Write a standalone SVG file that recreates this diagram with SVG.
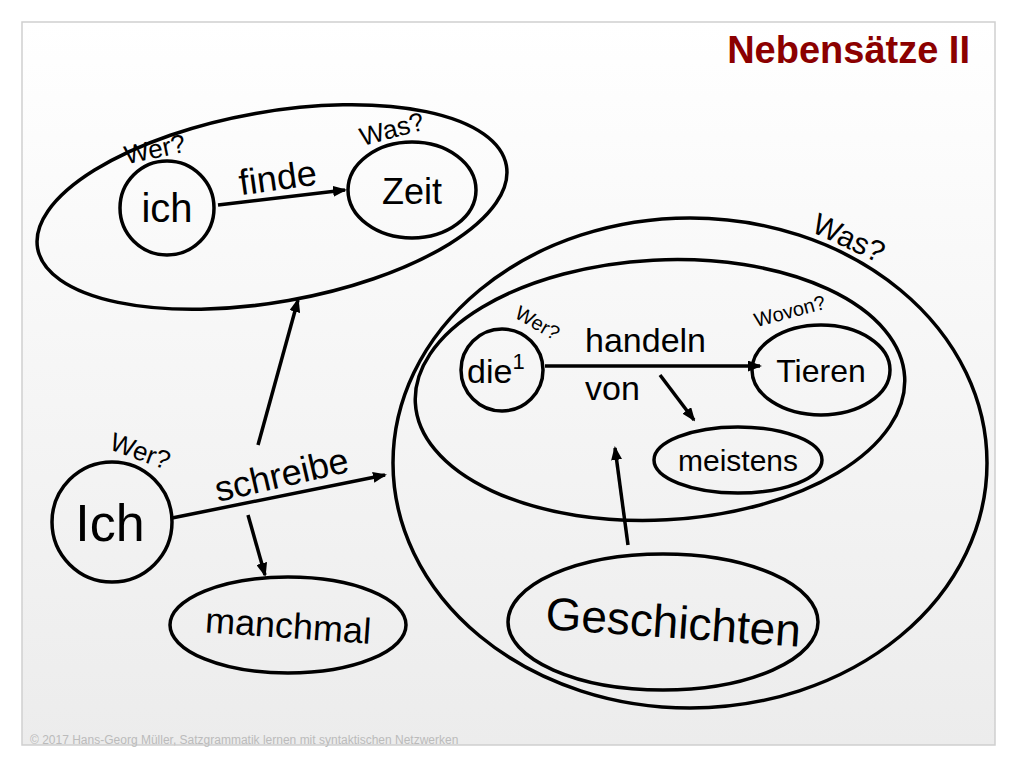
<svg xmlns="http://www.w3.org/2000/svg" width="1024" height="768" viewBox="0 0 1024 768">
<defs>
<linearGradient id="bg" x1="0" y1="0" x2="0" y2="1"><stop offset="0" stop-color="#ffffff"/><stop offset="1" stop-color="#ececec"/></linearGradient>
<marker id="ah" markerWidth="14" markerHeight="11" refX="12" refY="5.5" orient="auto" markerUnits="userSpaceOnUse"><path d="M0,0 L14,5.5 L0,11 Z" fill="#000"/></marker>
</defs>
<style>
.n{fill:none;stroke:#000;stroke-width:3.5}
.t{font-family:"Liberation Sans",Arial,sans-serif;fill:#000}
.c line{stroke:#000;stroke-width:3.5;marker-end:url(#ah)}
</style>
<rect width="1024" height="768" fill="#fff"/>
<rect x="22" y="22" width="973" height="723" fill="url(#bg)" stroke="#cfcfcf" stroke-width="1.5"/>
<text x="970" y="63" text-anchor="end" class="t" font-size="38" font-weight="bold" style="fill:#8b0000">Nebensätze II</text>
<g id="clause1"><ellipse cx="272" cy="207" rx="238" ry="95" transform="rotate(-10 272 207)" class="n"/></g>
<g id="ich"><circle cx="167" cy="208" r="47" class="n"/><text x="167" y="222" text-anchor="middle" class="t" font-size="40">ich</text></g>
<g id="zeit"><ellipse cx="412" cy="190" rx="64" ry="48" class="n"/><text x="412" y="204" text-anchor="middle" class="t" font-size="36">Zeit</text></g>
<g id="clause2"><ellipse cx="690" cy="463" rx="297" ry="245" class="n"/></g>
<g id="clause3"><ellipse cx="660" cy="390" rx="245" ry="130" transform="rotate(-3 660 390)" class="n"/></g>
<g id="die"><circle cx="502" cy="370" r="41" class="n"/><text x="467" y="383" class="t" font-size="34">die<tspan font-size="22" dy="-14">1</tspan></text></g>
<g id="tieren"><ellipse cx="821" cy="370" rx="69" ry="45" class="n"/><text x="821" y="382" text-anchor="middle" class="t" font-size="32">Tieren</text></g>
<g id="meistens"><ellipse cx="738" cy="460" rx="84" ry="33" class="n"/><text x="738" y="471" text-anchor="middle" class="t" font-size="30">meistens</text></g>
<g id="geschichten"><ellipse cx="663" cy="622" rx="155" ry="68" class="n"/><text x="673" y="638" text-anchor="middle" class="t" font-size="46" transform="rotate(4 673 628)">Geschichten</text></g>
<g id="Ich"><circle cx="112" cy="522" r="60" class="n"/><text x="110" y="541" text-anchor="middle" class="t" font-size="52">Ich</text></g>
<g id="manchmal"><ellipse cx="288" cy="625" rx="118" ry="48" class="n"/><text x="288" y="638" text-anchor="middle" class="t" font-size="36" transform="rotate(4 288 628)">manchmal</text></g>
<g class="c" id="connectors">
<line x1="218" y1="205" x2="345" y2="190"/>
<line x1="545" y1="366" x2="760" y2="366"/>
<line x1="660" y1="375" x2="694" y2="420"/>
<line x1="628" y1="545" x2="615" y2="448"/>
<line x1="172" y1="518" x2="385" y2="475"/>
<line x1="258" y1="445" x2="298" y2="300"/>
<line x1="248" y1="515" x2="265" y2="575"/>
</g>
<g class="t">
<text x="278" y="190" text-anchor="middle" font-size="36" transform="rotate(-8 278 180)">finde</text>
<text x="155" y="158" text-anchor="middle" font-size="26" transform="rotate(-12 155 150)">Wer?</text>
<text x="392" y="138" text-anchor="middle" font-size="26" transform="rotate(-15 392 130)">Was?</text>
<text x="848" y="248" text-anchor="middle" font-size="30" transform="rotate(25 848 240)">Was?</text>
<text x="538" y="330" text-anchor="middle" font-size="20" transform="rotate(30 538 322)">Wer?</text>
<text x="790" y="318" text-anchor="middle" font-size="20" transform="rotate(-15 790 312)">Wovon?</text>
<text x="585" y="352" font-size="34">handeln</text>
<text x="585" y="400" font-size="34">von</text>
<text x="282" y="487" text-anchor="middle" font-size="36" transform="rotate(-13 282 477)">schreibe</text>
<text x="140" y="460" text-anchor="middle" font-size="26" transform="rotate(20 140 452)">Wer?</text>
<text x="30" y="744" font-size="12" style="fill:#bbbbbb">© 2017 Hans-Georg Müller, Satzgrammatik lernen mit syntaktischen Netzwerken</text>
</g>
</svg>
